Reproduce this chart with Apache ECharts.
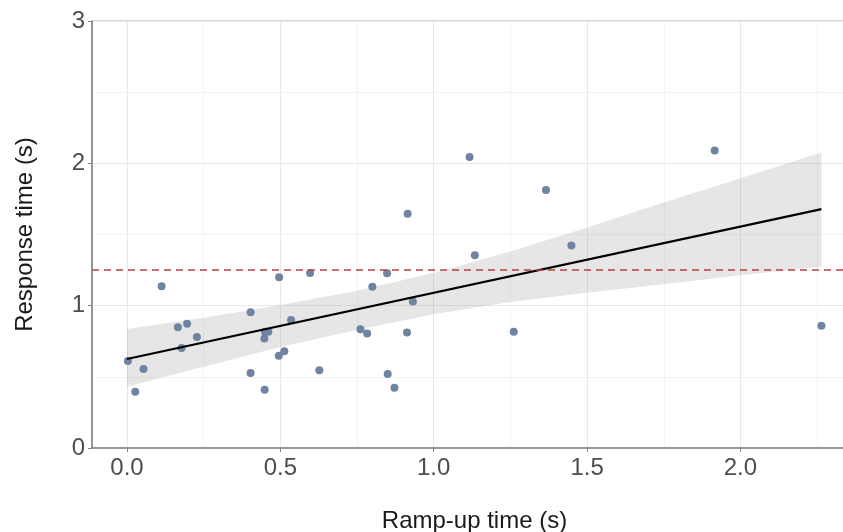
<!DOCTYPE html>
<html>
<head>
<meta charset="utf-8">
<script src="https://cdn.jsdelivr.net/npm/echarts@6/dist/echarts.min.js"></script>
<style>
html,body{margin:0;padding:0;background:#fff;}
#chart{width:843px;height:532px;}
</style>
</head>
<body>
<div id="chart"></div>
<script>
// ---- data ----
const rampUp = [0.003,0.027,0.054,0.113,0.166,0.196,0.178,0.228,0.403,0.403,0.449,0.448,0.450,0.461,0.496,0.495,0.513,0.535,0.597,0.627,0.761,0.783,0.800,0.848,0.850,0.872,0.913,0.915,0.932,1.117,1.134,1.261,1.366,1.449,1.916,2.264];
const response = [0.611,0.395,0.555,1.136,0.848,0.873,0.702,0.780,0.953,0.527,0.409,0.770,0.817,0.817,1.199,0.648,0.679,0.899,1.229,0.546,0.834,0.805,1.133,1.227,0.520,0.423,0.812,1.645,1.030,2.044,1.355,0.817,1.812,1.423,2.091,0.859];

const fitX = [0, 2.264];
const fitY = [0.625, 1.678];

const bandX = [0,0.25,0.5,0.75,1.0,1.25,1.5,1.75,2.0,2.264];
const bandUpper = [0.836,0.915,1.005,1.105,1.23,1.38,1.55,1.725,1.895,2.076];
const bandLower = [0.43,0.571,0.71,0.83,0.94,1.025,1.09,1.15,1.213,1.273];

const threshold = 1.25;

const xTicks = [0,0.5,1.0,1.5,2.0];
const xMinorTicks = [0.25,0.75,1.25,1.75,2.25];

const xTitle = 'Ramp-up time (s)';
const yTitle = 'Response time (s)';

// ---- build ----
const FONT = '"Liberation Sans", Arial, Helvetica, sans-serif';
const AXIS_COLOR = '#808080';
const MAJOR = '#e8e8e8';
const MINOR = '#f3f3f3';

const points = rampUp.map((x,i)=>[x,response[i]]);
const fitData = fitX.map((x,i)=>[x,fitY[i]]);

function renderBand(params, api){
  if (params.dataIndex !== 0) return null;
  const pts = [];
  for (let i=0;i<bandX.length;i++) pts.push(api.coord([bandX[i], bandUpper[i]]));
  for (let i=bandX.length-1;i>=0;i--) pts.push(api.coord([bandX[i], bandLower[i]]));
  return {type:'polygon', shape:{points:pts}, style:{fill:'rgba(150,150,150,0.24)'}, silent:true};
}

const chart = echarts.init(document.getElementById('chart'), null, {renderer:'canvas'});
chart.setOption({
  animation:false,
  backgroundColor:'#fff',
  textStyle:{fontFamily:FONT},
  grid:{left:92, top:21, width:765, height:427, show:true, borderColor:'#b0b0b0', borderWidth:1, backgroundColor:'transparent', containLabel:false, outerBoundsMode:'none'},
  xAxis:[{
    type:'value', min:-0.114, max:2.38, position:'bottom',
    axisLine:{show:true, onZero:false, lineStyle:{color:AXIS_COLOR, width:1.5}},
    axisTick:{show:true, customValues:xTicks, length:4, lineStyle:{color:AXIS_COLOR, width:1}},
    axisLabel:{show:true, customValues:xTicks, formatter:v=>v.toFixed(1), fontSize:24, color:'#4d4d4d', margin:8, fontFamily:FONT},
    splitLine:{show:true, lineStyle:{color:MAJOR, width:1}},
    name:xTitle, nameLocation:'middle', nameGap:61,
    nameTextStyle:{fontSize:24, color:'#1a1a1a', fontFamily:FONT}
  },{
    type:'value', min:-0.114, max:2.38, position:'bottom',
    axisLine:{show:false}, axisLabel:{show:false},
    axisTick:{show:false, customValues:xMinorTicks},
    splitLine:{show:true, lineStyle:{color:MINOR, width:1}}
  }],
  yAxis:{
    type:'value', min:0, max:3, interval:1,
    axisLine:{show:true, onZero:false, lineStyle:{color:AXIS_COLOR, width:1.5}},
    axisTick:{show:true, length:4, lineStyle:{color:AXIS_COLOR, width:1}},
    axisLabel:{fontSize:24, color:'#4d4d4d', margin:7, fontFamily:FONT},
    splitLine:{show:true, lineStyle:{color:MAJOR, width:1}},
    minorTick:{show:false, splitNumber:2},
    minorSplitLine:{show:true, lineStyle:{color:MINOR, width:1}},
    name:yTitle, nameLocation:'middle', nameGap:55,
    nameTextStyle:{fontSize:24, color:'#1a1a1a', fontFamily:FONT}
  },
  series:[
    {type:'custom', data:[[bandX[0], bandLower[0]]], renderItem:renderBand, silent:true, z:1, clip:true,
      markLine:{silent:true, symbol:'none', label:{show:false},
        lineStyle:{color:'#b5413d', type:[7,5], width:1.5},
        data:[{yAxis:threshold}]}},
    {type:'scatter', data:points, symbolSize:8, itemStyle:{color:'#6f84a3', opacity:1}, z:3},
    {type:'line', data:fitData, symbol:'none', lineStyle:{color:'#000', width:2.2}, z:4}
  ]
});
</script>
</body>
</html>
